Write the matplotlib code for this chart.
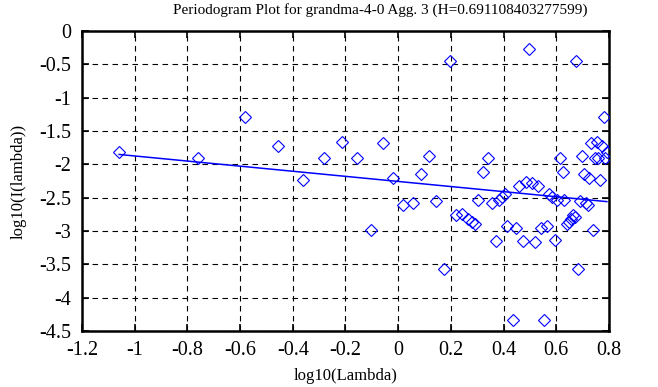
import matplotlib

matplotlib.use("Agg")
import matplotlib.pyplot as plt
from matplotlib.ticker import FuncFormatter

BLUE = "#0000FF"

TITLE = "Periodogram Plot for grandma-4-0 Agg. 3 (H=0.691108403277599)"
X_LABEL = "log10(Lambda)"
Y_LABEL = "log10(I(lambda))"

# log10 of the frequencies
log_freq = [
    -1.059, -0.758, -0.581, -0.456, -0.360, -0.281, -0.214, -0.158, -0.105, -0.059,
    -0.018, 0.020, 0.056, 0.088, 0.118, 0.145, 0.173, 0.197, 0.221, 0.241,
    0.265, 0.279, 0.290, 0.304, 0.321, 0.340, 0.357, 0.371, 0.382, 0.394,
    0.405, 0.414, 0.434, 0.449, 0.459, 0.473, 0.486, 0.498,
    0.509, 0.521, 0.532, 0.543, 0.554, 0.564, 0.574, 0.584, 0.594, 0.604,
    0.614, 0.624, 0.631, 0.640, 0.648, 0.657, 0.665, 0.671, 0.675, 0.681,
    0.689, 0.697, 0.704, 0.712, 0.719, 0.726, 0.733, 0.740, 0.747, 0.754,
    0.760, 0.767, 0.773, 0.780, 0.786, 0.792,
]
# log10 of the periodogram values
log_power = [
    -1.81, -1.91, -1.29, -1.73, -2.24, -1.90, -1.67, -1.90, -2.99, -1.68,
    -2.21, -2.61, -2.58, -2.15, -1.87, -2.55, -3.57, -0.45, -2.76, -2.75,
    -2.82, -2.86, -2.89, -2.54, -2.12, -1.91, -2.58, -3.15, -2.54, -2.49,
    -2.45, -2.92, -4.34, -2.96, -2.33, -3.15, -2.27, -0.27,
    -2.28, -3.16, -2.33, -2.95, -4.34, -2.92, -2.45, -2.49, -3.14, -2.54,
    -1.91, -2.12, -2.54, -2.90, -2.87, -2.82, -2.76, -2.79, -0.45, -3.57,
    -2.55, -1.87, -2.15, -2.58, -2.61, -2.21, -1.68, -2.99, -1.90, -1.67,
    -1.90, -2.24, -1.73, -1.29, -1.91, -1.81,
]

# least-squares line: slope = 1 - 2H
H = 0.691108403277599
fit_intercept = -2.257
fit_x = [log_freq[0], log_freq[-1]]

x_ticks = [-1.2, -1.0, -0.8, -0.6, -0.4, -0.2, 0.0, 0.2, 0.4, 0.6, 0.8]
y_ticks = [0.0, -0.5, -1.0, -1.5, -2.0, -2.5, -3.0, -3.5, -4.0, -4.5]


def fmt(v, _pos):
    s = f"{v:.1f}".rstrip("0").rstrip(".")
    return "0" if s in ("-0", "0") else s


plt.rcParams.update(
    {
        "font.family": ["Liberation Serif", "DejaVu Serif"],
        "font.size": 11.5,
        "axes.unicode_minus": False,
    }
)

fig = plt.figure(figsize=(6.58, 3.87), dpi=100)
ax = fig.add_axes([0.1246, 0.1447, 0.8009, 0.7753])

slope = 1 - 2 * H
fit_y = [fit_intercept + slope * x for x in fit_x]
ax.plot(fit_x, fit_y, color=BLUE, linewidth=1.1, zorder=3)
ax.plot(
    log_freq, log_power, linestyle="none", marker="D", markersize=6.6,
    markerfacecolor="none", markeredgecolor=BLUE, markeredgewidth=0.8, zorder=4,
)

ax.set_xlim(-1.2, 0.8)
ax.set_ylim(-4.5, 0.0)
ax.set_xticks(x_ticks)
ax.set_yticks(y_ticks)
ax.xaxis.set_major_formatter(FuncFormatter(fmt))
ax.yaxis.set_major_formatter(FuncFormatter(fmt))
ax.tick_params(direction="in", length=5, width=1.2, top=True, right=True,
               labelsize=14.5, colors="black")
ax.tick_params(axis="y", pad=8)
ax.tick_params(axis="x", pad=7)
ax.grid(True, color="black", linestyle=(0, (5, 4)), linewidth=0.8)
ax.set_axisbelow(True)
for sp in ax.spines.values():
    sp.set_linewidth(1.8)

ax.set_xlabel(X_LABEL, fontsize=12, labelpad=6)
ax.set_ylabel(Y_LABEL, fontsize=12, labelpad=9)
fig.text(0.578, 0.975, TITLE, ha="center", va="center", fontsize=11)

fig.savefig("out.png", dpi=100, facecolor="white")
